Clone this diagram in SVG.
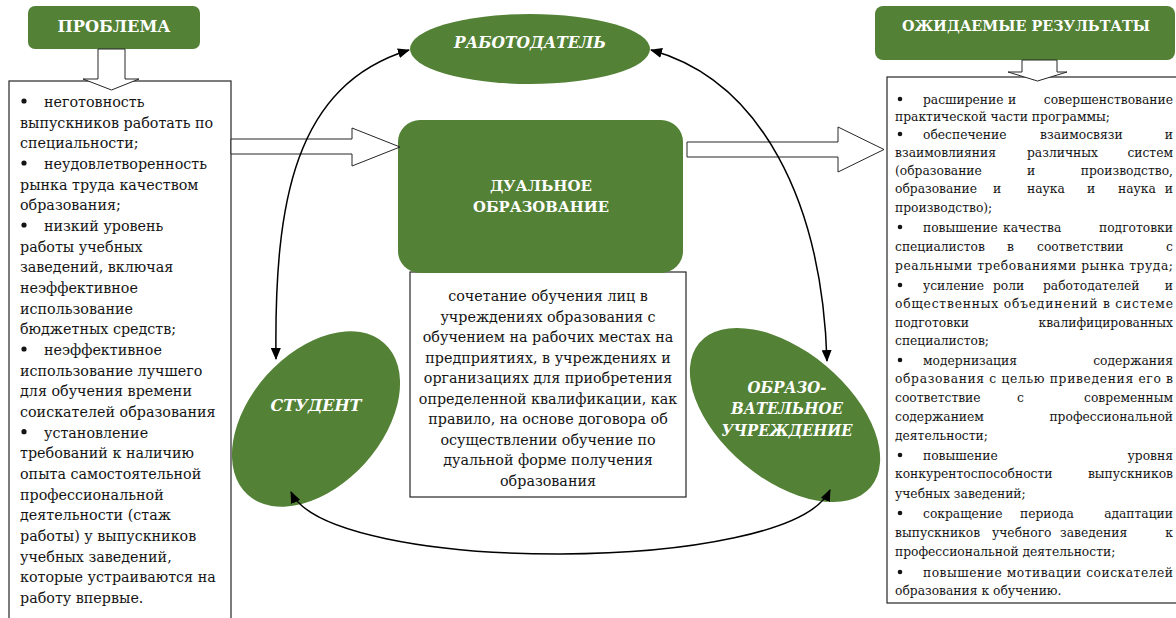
<svg xmlns="http://www.w3.org/2000/svg" width="1176" height="618" viewBox="0 0 1176 618">
<style>
text{font-family:"DejaVu Serif",serif}
.g{fill:#538135}
.box{fill:#fff;stroke:#262626;stroke-width:1.2}
.blk{fill:#fff;stroke:#262626;stroke-width:1}
.t{fill:#141414}
.lt{font-size:14.3px}
.rt{font-size:12.3px}
.ct{font-size:14.3px;text-anchor:middle}
.e{text-anchor:end}
.h{font-weight:bold;fill:#fff;text-anchor:middle}
.hi{font-weight:bold;font-style:italic;fill:#fff;text-anchor:middle;font-size:16.5px}
.conn{fill:none;stroke:#000;stroke-width:1.5}
.bul{fill:#141414}
</style>
<defs>
<marker id="ah" markerWidth="12" markerHeight="10" refX="11" refY="5" orient="auto-start-reverse" markerUnits="userSpaceOnUse">
<path d="M0,0 L12,5 L0,10 Z" fill="#000"/>
</marker>
</defs>

<g id="problem-header">
<rect class="g" x="28" y="6" width="172" height="43" rx="7"/>
<text class="h" x="114" y="32" font-size="16.5" textLength="113" lengthAdjust="spacingAndGlyphs">ПРОБЛЕМА</text>
</g>

<g id="problem-box">
<rect class="box" x="9" y="81" width="222" height="560"/>
<g class="t lt">
<text x="44" y="107">неготовность</text>
<text x="20" y="127.7">выпускников работать по</text>
<text x="20" y="148.3">специальности;</text>
<text x="44" y="169">неудовлетворенность</text>
<text x="20" y="189.7">рынка труда качеством</text>
<text x="20" y="210.3">образования;</text>
<text x="44" y="231">низкий уровень</text>
<text x="20" y="251.7">работы учебных</text>
<text x="20" y="272.3">заведений, включая</text>
<text x="20" y="293">неэффективное</text>
<text x="20" y="313.7">использование</text>
<text x="20" y="334.3">бюджетных средств;</text>
<text x="44" y="355">неэффективное</text>
<text x="20" y="375.7">использование лучшего</text>
<text x="20" y="396.3">для обучения времени</text>
<text x="20" y="417">соискателей образования</text>
<text x="44" y="437.7">установление</text>
<text x="20" y="458.3">требований к наличию</text>
<text x="20" y="479">опыта самостоятельной</text>
<text x="20" y="499.7">профессиональной</text>
<text x="20" y="520.3">деятельности (стаж</text>
<text x="20" y="541">работы) у выпускников</text>
<text x="20" y="561.7">учебных заведений,</text>
<text x="20" y="582.3">которые устраиваются на</text>
<text x="20" y="603">работу впервые.</text>
</g>
<g class="bul">
<circle cx="24" cy="101" r="2.6"/>
<circle cx="24" cy="163" r="2.6"/>
<circle cx="24" cy="225" r="2.6"/>
<circle cx="24" cy="349" r="2.6"/>
<circle cx="24" cy="431.7" r="2.6"/>
</g>
<polygon class="blk" points="98,49 125,49 125,79 139,79 111.5,90 83,79 98,79"/>
</g>

<g id="results-header">
<rect class="g" x="875" y="6" width="300" height="54" rx="8"/>
<text class="h" x="1026" y="31" font-size="15.5" textLength="248" lengthAdjust="spacingAndGlyphs">ОЖИДАЕМЫЕ РЕЗУЛЬТАТЫ</text>
</g>

<g id="results-box">
<rect class="box" x="887" y="77" width="295" height="526"/>
<g class="t rt">
<text x="923" y="104">расширение</text><text x="1008" y="104">и</text><text class="e" x="1173" y="104">совершенствование</text>
<text x="895" y="121">практической части программы;</text>
<text x="923" y="139">обеспечение</text><text x="1040" y="139">взаимосвязи</text><text class="e" x="1173" y="139">и</text>
<text x="895" y="157">взаимовлияния</text><text x="1027" y="157">различных</text><text class="e" x="1173" y="157">систем</text>
<text x="895" y="175">(образование</text><text x="1027" y="175">и</text><text class="e" x="1173" y="175">производство,</text>
<text x="895" y="193">образование</text><text x="993" y="193">и</text><text x="1027" y="193">наука</text><text x="1087" y="193">и</text><text x="1118" y="193">наука</text><text class="e" x="1173" y="193">и</text>
<text x="895" y="212">производство);</text>
<text x="923" y="232">повышение</text><text x="1003" y="232">качества</text><text class="e" x="1173" y="232">подготовки</text>
<text x="895" y="251">специалистов</text><text x="1007" y="251">в</text><text x="1037" y="251">соответствии</text><text class="e" x="1173" y="251">с</text>
<text x="895" y="270" textLength="278" lengthAdjust="spacing">реальными требованиями рынка труда;</text>
<text x="923" y="290">усиление</text><text x="993" y="290">роли</text><text x="1043" y="290">работодателей</text><text class="e" x="1173" y="290">и</text>
<text x="895" y="308" textLength="278" lengthAdjust="spacing">общественных объединений в системе</text>
<text x="895" y="327">подготовки</text><text class="e" x="1173" y="327">квалифицированных</text>
<text x="895" y="345">специалистов;</text>
<text x="923" y="365">модернизация</text><text class="e" x="1173" y="365">содержания</text>
<text x="895" y="383" textLength="278" lengthAdjust="spacing">образования с целью приведения его в</text>
<text x="895" y="402">соответствие</text><text x="1017" y="402">с</text><text class="e" x="1173" y="402">современным</text>
<text x="895" y="421">содержанием</text><text class="e" x="1173" y="421">профессиональной</text>
<text x="895" y="440">деятельности;</text>
<text x="923" y="460">повышение</text><text class="e" x="1173" y="460">уровня</text>
<text x="895" y="478">конкурентоспособности</text><text class="e" x="1173" y="478">выпускников</text>
<text x="895" y="498">учебных заведений;</text>
<text x="923" y="518">сокращение</text><text x="1020" y="518">периода</text><text class="e" x="1173" y="518">адаптации</text>
<text x="895" y="537">выпускников</text><text x="992" y="537">учебного</text><text x="1060" y="537">заведения</text><text class="e" x="1173" y="537">к</text>
<text x="895" y="556">профессиональной деятельности;</text>
<text x="923" y="577" textLength="250" lengthAdjust="spacing">повышение мотивации соискателей</text>
<text x="895" y="595">образования к обучению.</text>
</g>
<g class="bul">
<circle cx="900" cy="99" r="2.3"/>
<circle cx="900" cy="134" r="2.3"/>
<circle cx="900" cy="227" r="2.3"/>
<circle cx="900" cy="285" r="2.3"/>
<circle cx="900" cy="360" r="2.3"/>
<circle cx="900" cy="455" r="2.3"/>
<circle cx="900" cy="513" r="2.3"/>
<circle cx="900" cy="572" r="2.3"/>
</g>
<polygon class="blk" points="1022,60 1057,60 1057,72 1067,72 1037.5,81 1008,72 1022,72"/>
</g>

<g id="definition-box">
<rect class="box" x="410" y="272" width="276" height="225"/>
<g class="t ct">
<text x="548" y="301">сочетание обучения лиц в</text>
<text x="548" y="321.5">учреждениях образования с</text>
<text x="548" y="342">обучением на рабочих местах на</text>
<text x="548" y="362.5">предприятиях, в учреждениях и</text>
<text x="548" y="383">организациях для приобретения</text>
<text x="548" y="403.5">определенной квалификации, как</text>
<text x="548" y="424">правило, на основе договора об</text>
<text x="548" y="444.5">осуществлении обучение по</text>
<text x="548" y="465">дуальной форме получения</text>
<text x="548" y="485.5">образования</text>
</g>
</g>

<g id="dual-education">
<rect class="g" x="398" y="120" width="285" height="153" rx="22"/>
<text class="h" x="541" y="191" font-size="15.5" textLength="102" lengthAdjust="spacingAndGlyphs">ДУАЛЬНОЕ</text>
<text class="h" x="541" y="212" font-size="15.5" textLength="136" lengthAdjust="spacingAndGlyphs">ОБРАЗОВАНИЕ</text>
</g>

<g id="employer">
<ellipse class="g" cx="530" cy="49" rx="120" ry="35"/>
<text class="hi" x="530" y="48" textLength="152" lengthAdjust="spacingAndGlyphs">РАБОТОДАТЕЛЬ</text>
</g>

<g id="student">
<ellipse class="g" cx="316" cy="419" rx="102" ry="66" transform="rotate(-48 316 419)"/>
<text class="hi" x="316" y="411" textLength="91" lengthAdjust="spacingAndGlyphs">СТУДЕНТ</text>
</g>

<g id="institution">
<ellipse class="g" cx="785" cy="415" rx="112" ry="64" transform="rotate(40 785 415)"/>
<text class="hi" x="787" y="393" textLength="79" lengthAdjust="spacingAndGlyphs">ОБРАЗО-</text>
<text class="hi" x="787" y="414" textLength="112" lengthAdjust="spacingAndGlyphs">ВАТЕЛЬНОЕ</text>
<text class="hi" x="787" y="436" textLength="131" lengthAdjust="spacingAndGlyphs">УЧРЕЖДЕНИЕ</text>
</g>

<g id="connectors">
<polygon class="blk" points="231,139 352,139 352,128 400,147 352,166 352,154 231,154"/>
<polygon class="blk" points="687,142 838,142 838,127 884,149.5 838,172 838,157 687,157"/>
<path class="conn" d="M276,359 C274,200 295,85 409,50" marker-start="url(#ah)" marker-end="url(#ah)"/>
<path class="conn" d="M651,50 C760,80 822,200 827,361" marker-start="url(#ah)" marker-end="url(#ah)"/>
<path class="conn" d="M291,492 C330,575 790,575 830,490" marker-start="url(#ah)" marker-end="url(#ah)"/>
</g>
</svg>
